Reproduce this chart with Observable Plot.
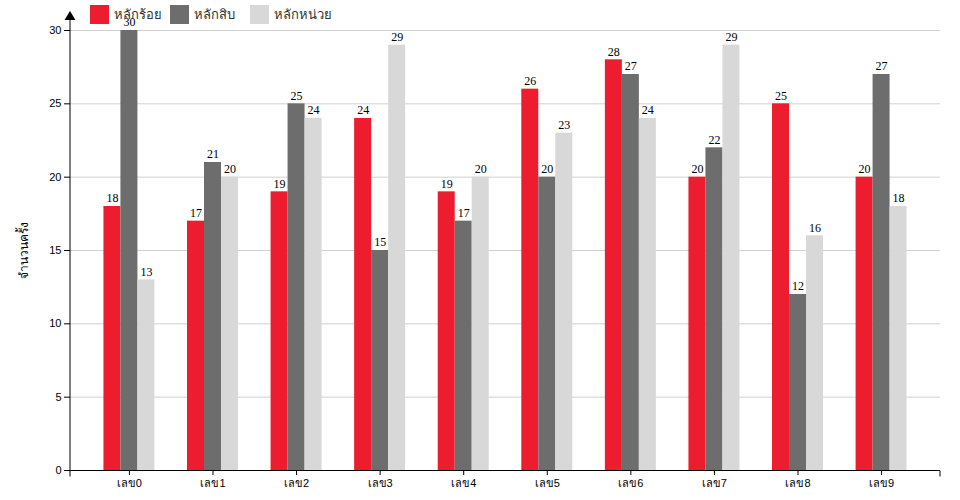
<!DOCTYPE html>
<html>
<head>
<meta charset="utf-8">
<script src="https://cdn.jsdelivr.net/npm/d3@7"></script>
<script src="https://cdn.jsdelivr.net/npm/@observablehq/plot@0.6"></script>
<style>
  body { margin: 0; background: #fff; font-family: sans-serif; }
  #wrap { position: relative; width: 960px; height: 500px; }
  #legend { position: absolute; left: 90px; top: 5px; display: flex; font-size: 13px; color: #333; white-space: nowrap; }
  .item { display: flex; align-items: center; width: 80px; height: 19px; }
  .sw { width: 19px; height: 19px; margin-right: 5px; flex: none; }
</style>
</head>
<body>
<div id="wrap"><div id="legend"></div></div>
<script>
const categories = ["เลข0","เลข1","เลข2","เลข3","เลข4","เลข5","เลข6","เลข7","เลข8","เลข9"];
const hundreds = [18, 17, 19, 24, 19, 26, 28, 20, 25, 20];
const tens     = [30, 21, 25, 15, 17, 20, 27, 22, 12, 27];
const units    = [13, 20, 24, 29, 20, 23, 24, 29, 16, 18];
const seriesNames = ["หลักร้อย", "หลักสิบ", "หลักหน่วย"];
const seriesColors = ["#ed1c2e", "#6d6d6d", "#d8d8d8"];
const yTicks = [0, 5, 10, 15, 20, 25, 30];
const yLabel = "จำนวนครั้ง";

const seriesValues = [hundreds, tens, units];

const W = 960, H = 500, mL = 70, mR = 20, mT = 30, mB = 30;
const padInner = 0.39, padOuter = 0.4;
const xs = Plot.scale({x: {type: "band", domain: categories, range: [mL, W - mR], paddingInner: padInner, paddingOuter: padOuter, round: false}});
const bw = xs.bandwidth;
const third = bw / 3;

const marks = [
  Plot.gridY(yTicks, {stroke: "#d0d0d0", strokeOpacity: 1})
];
seriesValues.forEach((vals, s) => {
  const data = categories.map((c, i) => ({cat: c, value: vals[i]}));
  marks.push(Plot.barY(data, {
    x: "cat", y: "value", fill: seriesColors[s],
    insetLeft: s * third, insetRight: (2 - s) * third
  }));
  marks.push(Plot.text(data, {
    x: "cat", y: "value", text: d => String(d.value),
    dx: (s - 1) * third, dy: -8, fontFamily: "Liberation Serif, Times New Roman, serif",
    fontSize: 12, fill: "#000"
  }));
});
marks.push(Plot.axisY(yTicks, {tickSize: 6, fontSize: 11, label: null, tickPadding: 3}));
marks.push(Plot.axisX({tickSize: 5, fontSize: 11, label: null, tickPadding: 4}));
// axis lines with arrow and end ticks, from the plot's own dimensions
marks.push((index, scales, values, dims) => {
  const g = d3.create("svg:g").attr("fill", "none").attr("stroke", "#000");
  const x0 = dims.marginLeft, x1 = dims.width - dims.marginRight;
  const yb = dims.height - dims.marginBottom + 0.5;
  const yt = dims.marginTop;
  g.append("path").attr("d", `M${x0},${yb + 6}V${yb}H${x1}V${yb + 6}`);
  g.append("path").attr("d", `M${x0},${yb}V${yt - 10}`);
  g.append("path").attr("d", `M${x0 - 5.5},${yt - 10}L${x0},${yt - 19}L${x0 + 5.5},${yt - 10}Z`).attr("fill", "#000").attr("stroke", "none");
  g.append("text").attr("stroke", "none").attr("fill", "#000")
    .attr("font-size", 12).attr("text-anchor", "middle")
    .attr("transform", `translate(${x0 - 42},${(yt + dims.height - dims.marginBottom) / 2}) rotate(-90)`)
    .text(yLabel);
  return g.node();
});

const chart = Plot.plot({
  width: W, height: H,
  marginLeft: mL, marginRight: mR, marginTop: mT, marginBottom: mB,
  x: {type: "band", domain: categories, paddingInner: padInner, paddingOuter: padOuter, round: false, axis: null},
  y: {domain: [0, 30], axis: null},
  style: {fontFamily: "sans-serif", background: "#fff"},
  marks
});
const wrap = document.getElementById("wrap");
wrap.insertBefore(chart, wrap.firstChild);

const legend = document.getElementById("legend");
seriesNames.forEach((n, i) => {
  const it = document.createElement("div");
  it.className = "item";
  it.innerHTML = `<div class="sw" style="background:${seriesColors[i]}"></div><span>${n}</span>`;
  legend.appendChild(it);
});
</script>
</body>
</html>
